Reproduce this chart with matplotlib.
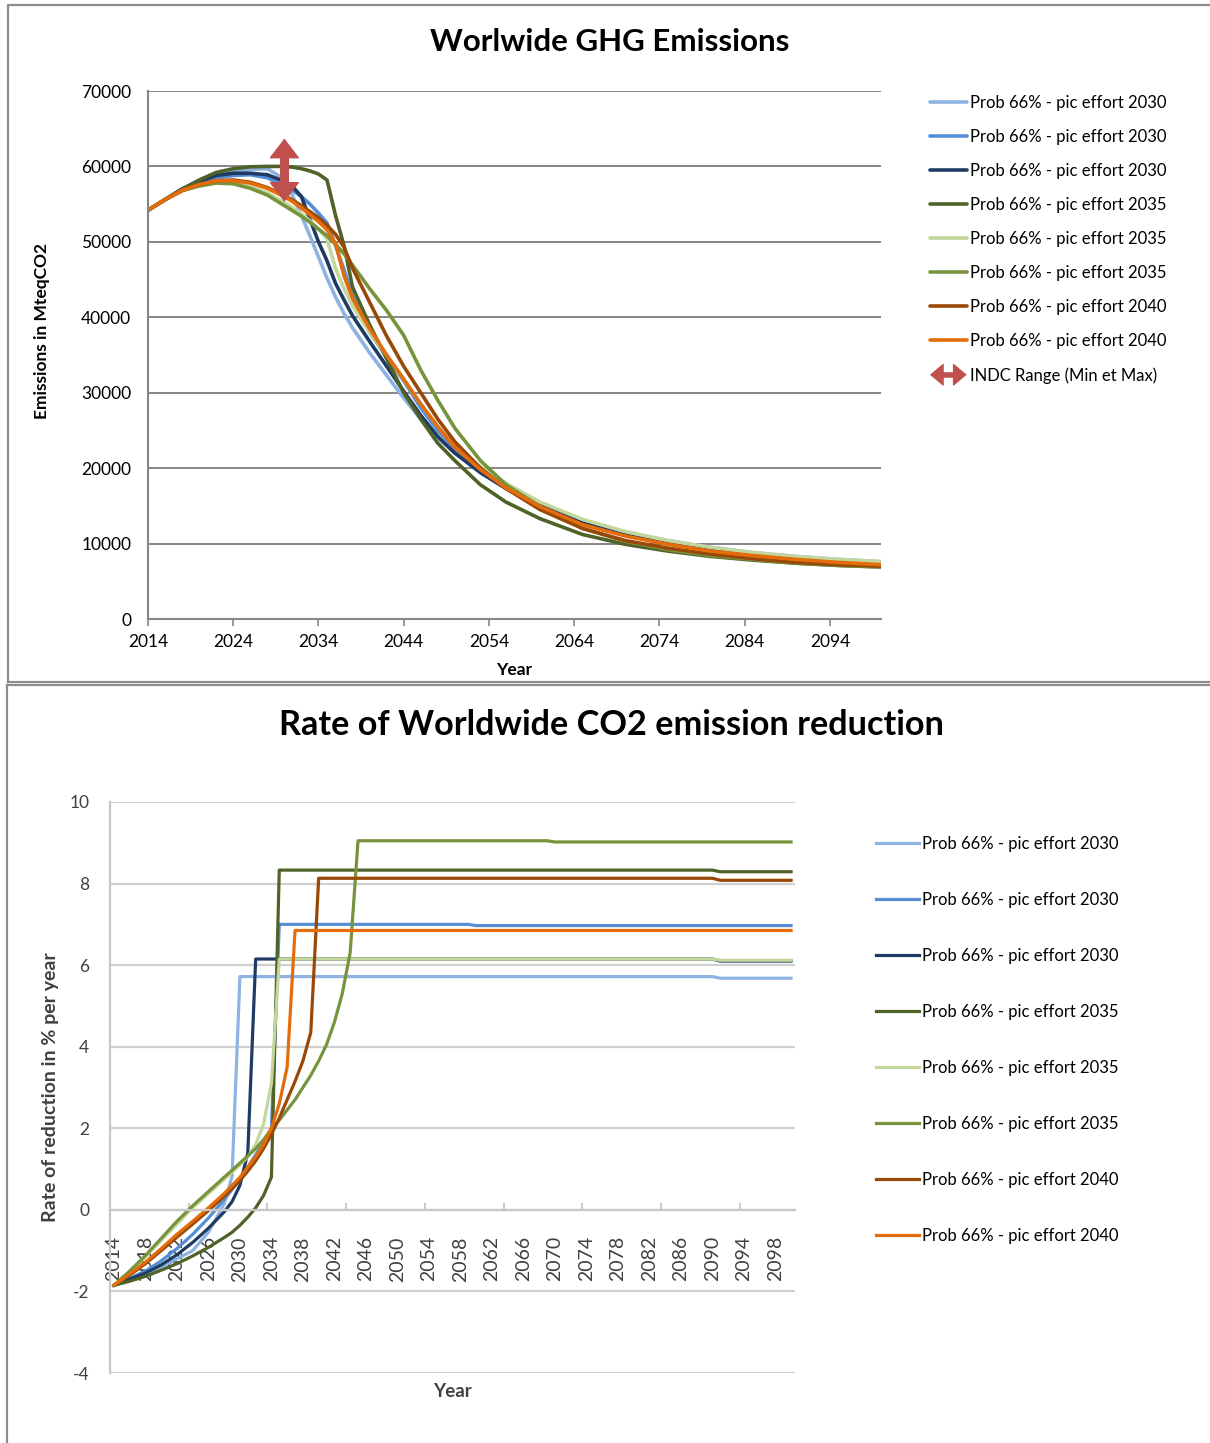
import numpy as np
import matplotlib
matplotlib.use("Agg")
import matplotlib.pyplot as plt
from matplotlib.lines import Line2D
from matplotlib.patches import FancyArrowPatch
from matplotlib.legend_handler import HandlerBase

plt.rcParams['font.family'] = ['Lato', 'DejaVu Sans']
plt.rcParams['axes.unicode_minus'] = False

# ---- data: worldwide GHG emissions (MteqCO2) ----
years_ghg = [2014, 2016, 2018, 2020, 2022, 2024, 2026, 2028, 2030, 2031, 2032, 2033, 2034,
             2035, 2036, 2037, 2038, 2040, 2042, 2044, 2046, 2048, 2050, 2053, 2056, 2060,
             2065, 2070, 2075, 2080, 2085, 2090, 2095, 2100]

ghg_2030_a = [54200, 55600, 57000, 57900, 58700, 59300, 59600, 59700, 58300, 56000, 53500, 50800, 48000,
              45200, 42700, 40500, 38600, 35300, 32300, 29300, 26500, 24000, 22000, 19600, 17600, 15300,
              13000, 11500, 10400, 9500, 8800, 8300, 7900, 7600]
ghg_2030_b = [54200, 55600, 57000, 57900, 58500, 58800, 58900, 58500, 57400, 56800, 56000, 55000, 53800,
              52500, 49500, 46300, 42800, 38000, 34800, 31600, 28000, 25000, 22600, 19700, 17400, 15000,
              12700, 11100, 10000, 9200, 8600, 8100, 7700, 7400]
ghg_2030_c = [54200, 55600, 57000, 58000, 58800, 59100, 59100, 58900, 58000, 57300, 56000, 53000, 50000,
              47500, 44500, 42300, 40200, 36800, 33500, 30200, 27000, 24200, 22000, 19400, 17300, 15000,
              12700, 11100, 10000, 9200, 8600, 8100, 7700, 7400]
ghg_2035_a = [54200, 55600, 57000, 58200, 59200, 59700, 59950, 60000, 60000, 59900, 59700, 59400, 59000,
              58200, 53500, 49500, 44000, 39000, 34500, 30000, 26500, 23300, 21000, 17800, 15500, 13300,
              11200, 9900, 9000, 8300, 7800, 7400, 7100, 6900]
ghg_2035_b = [54200, 55600, 56800, 57500, 57900, 57800, 57300, 56500, 55200, 54500, 53700, 52800, 51700,
              50400, 46500, 43800, 41500, 38000, 35000, 31800, 28500, 25500, 23000, 20200, 18000, 15500,
              13200, 11600, 10400, 9500, 8800, 8300, 7900, 7600]
ghg_2035_c = [54200, 55600, 56800, 57400, 57800, 57700, 57100, 56200, 54800, 54100, 53400, 52600, 51700,
              50800, 49700, 48400, 46900, 43800, 40900, 37600, 33000, 29000, 25300, 21000, 17800, 14900,
              12000, 10300, 9200, 8400, 7900, 7400, 7100, 6900]
ghg_2040_a = [54200, 55600, 56800, 57600, 58100, 58200, 57900, 57200, 56100, 55500, 54800, 54000, 53200,
              52200, 51000, 49300, 46500, 42000, 37500, 33500, 30000, 26500, 23500, 20000, 17300, 14500,
              12000, 10400, 9400, 8600, 8000, 7500, 7200, 7000]
ghg_2040_b = [54200, 55600, 56800, 57600, 58100, 58100, 57800, 57100, 56000, 55300, 54500, 53600, 52700,
              51600, 49800, 45500, 42500, 38500, 35000, 31800, 28500, 25500, 22800, 19800, 17400, 14900,
              12500, 11000, 9900, 9000, 8400, 7900, 7500, 7200]

# INDC range (min / max) shown as a double arrow
indc_year = 2030
indc_min = 55300
indc_max = 63700

# ---- data: rate of worldwide CO2 emission reduction (% per year) ----
years_rate = [2014, 2016, 2018, 2020, 2022, 2024, 2026, 2028, 2029, 2030, 2031, 2032, 2033, 2034, 2035,
              2036, 2037, 2038, 2039, 2040, 2041, 2042, 2043, 2044, 2045, 2059, 2060, 2069, 2070,
              2090, 2091, 2100]

rate_2030_a = [-1.85, -1.72, -1.58, -1.4, -1.2, -1.0, -0.55, 0.15, 0.82, 5.72, 5.72, 5.72, 5.72, 5.72, 5.72,
               5.72, 5.72, 5.72, 5.72, 5.72, 5.72, 5.72, 5.72, 5.72, 5.72, 5.72, 5.72, 5.72, 5.72,
               5.72, 5.68, 5.68]
rate_2030_b = [-1.85, -1.68, -1.5, -1.25, -0.95, -0.6, -0.2, 0.25, 0.5, 0.75, 1.05, 1.35, 1.65, 2.0, 7.0,
               7.0, 7.0, 7.0, 7.0, 7.0, 7.0, 7.0, 7.0, 7.0, 7.0, 7.0, 6.97, 6.97, 6.97,
               6.97, 6.97, 6.97]
rate_2030_c = [-1.85, -1.7, -1.55, -1.35, -1.1, -0.8, -0.45, -0.05, 0.2, 0.6, 1.4, 6.15, 6.15, 6.15, 6.15,
               6.15, 6.15, 6.15, 6.15, 6.15, 6.15, 6.15, 6.15, 6.15, 6.15, 6.15, 6.15, 6.15, 6.15,
               6.15, 6.1, 6.1]
rate_2035_a = [-1.85, -1.75, -1.63, -1.48, -1.32, -1.13, -0.92, -0.68, -0.55, -0.38, -0.18, 0.05, 0.35, 0.8, 8.33,
               8.33, 8.33, 8.33, 8.33, 8.33, 8.33, 8.33, 8.33, 8.33, 8.33, 8.33, 8.33, 8.33, 8.33,
               8.33, 8.29, 8.29]
rate_2035_b = [-1.85, -1.52, -1.15, -0.75, -0.35, 0.05, 0.4, 0.75, 0.92, 1.1, 1.3, 1.6, 2.1, 3.1, 6.15,
               6.15, 6.15, 6.15, 6.15, 6.15, 6.15, 6.15, 6.15, 6.15, 6.15, 6.15, 6.15, 6.15, 6.15,
               6.15, 6.12, 6.12]
rate_2035_c = [-1.85, -1.5, -1.12, -0.7, -0.28, 0.1, 0.45, 0.8, 0.97, 1.15, 1.32, 1.5, 1.72, 1.98, 2.2,
               2.45, 2.7, 3.0, 3.3, 3.65, 4.05, 4.6, 5.3, 6.3, 9.05, 9.05, 9.05, 9.05, 9.02,
               9.02, 9.02, 9.02]
rate_2040_a = [-1.85, -1.6, -1.32, -1.0, -0.67, -0.35, -0.02, 0.33, 0.52, 0.72, 0.95, 1.2, 1.5, 1.85, 2.25,
               2.7, 3.15, 3.65, 4.35, 8.13, 8.13, 8.13, 8.13, 8.13, 8.13, 8.13, 8.13, 8.13, 8.13,
               8.13, 8.08, 8.08]
rate_2040_b = [-1.85, -1.57, -1.28, -0.95, -0.6, -0.28, 0.05, 0.4, 0.6, 0.8, 1.05, 1.3, 1.6, 2.0, 2.6,
               3.5, 6.85, 6.85, 6.85, 6.85, 6.85, 6.85, 6.85, 6.85, 6.85, 6.85, 6.85, 6.85, 6.85,
               6.85, 6.85, 6.85]

labels = ['Prob 66% - pic effort 2030', 'Prob 66% - pic effort 2030', 'Prob 66% - pic effort 2030',
          'Prob 66% - pic effort 2035', 'Prob 66% - pic effort 2035', 'Prob 66% - pic effort 2035',
          'Prob 66% - pic effort 2040', 'Prob 66% - pic effort 2040']
colors = ['#8DB3E2', '#558ED5', '#1F3B63', '#4F6228', '#C3D69B', '#77933C', '#984807', '#E46C0A']
arrow_color = '#C0504D'

W, H = 1210, 1443


def fx(px):
    return px / W


def fy(py):
    return 1 - py / H


# legend entry for the INDC arrow: shaft + two heads
class ArrowHandler(HandlerBase):
    def create_artists(self, legend, orig_handle, xdescent, ydescent, width, height, fontsize, trans):
        y = height / 2 - ydescent
        x0, x1 = -xdescent, width - xdescent
        shaft = Line2D([x0 + 0.3 * width, x1 - 0.3 * width], [y, y], color=arrow_color, lw=4,
                       solid_capstyle='butt', transform=trans)
        heads = FancyArrowPatch((x0, y), (x1, y),
                                arrowstyle='<|-|>,head_width=0.38,head_length=0.45',
                                mutation_scale=fontsize * 1.6, lw=1, color=arrow_color,
                                shrinkA=0, shrinkB=0, transform=trans)
        return [shaft, heads]


def plot_emissions(fig):
    ax = fig.add_axes([fx(148), fy(619), fx(881) - fx(148), fy(91) - fy(619)])
    series = [ghg_2030_a, ghg_2030_b, ghg_2030_c, ghg_2035_a, ghg_2035_b, ghg_2035_c, ghg_2040_a, ghg_2040_b]
    handles = []
    for vals, c, lab in zip(series, colors, labels):
        h, = ax.plot(years_ghg, vals, color=c, lw=2.6, label=lab, solid_capstyle='round')
        handles.append(h)

    # INDC arrow: thick shaft plus two filled heads
    ax.plot([indc_year, indc_year], [indc_min + 2000, indc_max - 2000], color=arrow_color,
            lw=6.5, solid_capstyle='butt')
    ax.annotate('', xy=(indc_year, indc_max), xytext=(indc_year, indc_min),
                arrowprops=dict(arrowstyle='<|-|>,head_width=0.5,head_length=0.65',
                                mutation_scale=20, lw=1, color=arrow_color,
                                shrinkA=0, shrinkB=0))

    ax.set_xlim(2014, 2100)
    ax.set_ylim(0, 70000)
    ax.set_xticks(np.arange(2014, 2095, 10))
    ax.set_yticks(np.arange(0, 70001, 10000))
    ax.tick_params(axis='x', direction='out', length=5, width=1.2, color='#868686', labelsize=12.5, pad=6)
    ax.tick_params(axis='y', length=0, labelsize=12.5, pad=12)
    ax.grid(axis='y', color='#868686', lw=1.4)
    ax.set_axisbelow(True)
    for s in ['top', 'right']:
        ax.spines[s].set_visible(False)
    for s in ['left', 'bottom']:
        ax.spines[s].set_color('#868686')
        ax.spines[s].set_linewidth(1.5)

    fig.text(fx(610), fy(42), 'Worlwide GHG Emissions', fontsize=22.5, fontweight='bold',
             ha='center', va='center')
    ax.set_xlabel('Year', fontsize=12.5, fontweight='bold')
    ax.xaxis.set_label_coords(0.5, -0.081)
    ax.set_ylabel('Emissions in MteqCO2', fontsize=12.5, fontweight='bold')
    ax.yaxis.set_label_coords(-0.134, 0.545)

    arrow_proxy = FancyArrowPatch((0, 0), (1, 1))
    fig.legend(handles + [arrow_proxy], labels + ['INDC Range (Min et Max)'],
               handler_map={arrow_proxy: ArrowHandler()},
               loc='upper left', bbox_to_anchor=(fx(930), fy(95)), frameon=False,
               fontsize=12, borderpad=0, borderaxespad=0, handlelength=2.2,
               handletextpad=0.2, labelspacing=1.08)


def plot_rates(fig):
    ax = fig.add_axes([fx(110), fy(1373), fx(795) - fx(110), fy(802) - fy(1373)])
    series = [rate_2030_a, rate_2030_b, rate_2030_c, rate_2035_a, rate_2035_b, rate_2035_c, rate_2040_a, rate_2040_b]
    handles = []
    for vals, c, lab in zip(series, colors, labels):
        h, = ax.plot(years_rate, vals, color=c, lw=2.3, label=lab)
        handles.append(h)

    ax.set_xlim(2013.5, 2100.5)
    ax.set_ylim(-4, 10)
    ax.set_yticks(np.arange(-4, 11, 2))
    ax.set_xticks(np.arange(2014, 2099, 4))
    ax.set_xticks(np.arange(2023.5, 2100, 10), minor=True)
    ax.tick_params(axis='x', which='major', length=0, labelsize=14, labelrotation=90, pad=19,
                   labelcolor='#404040')
    ax.tick_params(axis='x', which='minor', direction='in', length=5, width=1.2, color='#BFBFBF')
    ax.tick_params(axis='y', length=0, labelsize=12.5, pad=15, labelcolor='#404040')
    ax.grid(axis='y', color='#D0D0D0', lw=1.6)
    ax.set_axisbelow(True)
    ax.spines['bottom'].set_position(('data', 0))
    ax.spines['bottom'].set_color('#C8C8C8')
    ax.spines['bottom'].set_linewidth(1.6)
    ax.spines['left'].set_color('#C8C8C8')
    ax.spines['left'].set_linewidth(1.6)
    for s in ['top', 'right']:
        ax.spines[s].set_visible(False)

    fig.text(fx(611), fy(725), 'Rate of Worldwide CO2 emission reduction', fontsize=24.7,
             fontweight='bold', ha='center', va='center')
    ax.set_xlabel('Year', fontsize=13.5, fontweight='bold', color='#404040')
    ax.xaxis.set_label_coords(0.5, -0.017)
    ax.set_ylabel('Rate of reduction in % per year', fontsize=14, fontweight='bold', color='#404040')
    ax.yaxis.set_label_coords(-0.0745, 0.5)

    fig.legend(handles, labels, loc='upper left', bbox_to_anchor=(fx(876), fy(836)), frameon=False,
               fontsize=12, borderpad=0, borderaxespad=0, handlelength=2.55,
               handletextpad=0.2, labelspacing=2.4)


if __name__ == "__main__":
    fig = plt.figure(figsize=(W / 100, H / 100), dpi=100)

    # panel frames
    frame = dict(color='#8C8C8C', lw=1.6, transform=fig.transFigure)
    fig.add_artist(Line2D([fx(8), fx(8), fx(1210)], [fy(682), fy(5), fy(5)], **frame))
    fig.add_artist(Line2D([fx(8), fx(1210)], [fy(682), fy(682)], **frame))
    fig.add_artist(Line2D([fx(7), fx(1210)], [fy(685), fy(685)], **frame))
    fig.add_artist(Line2D([fx(7), fx(7)], [fy(685), fy(1443)], **frame))

    plot_emissions(fig)
    plot_rates(fig)

    fig.savefig('out.png', dpi=100)
